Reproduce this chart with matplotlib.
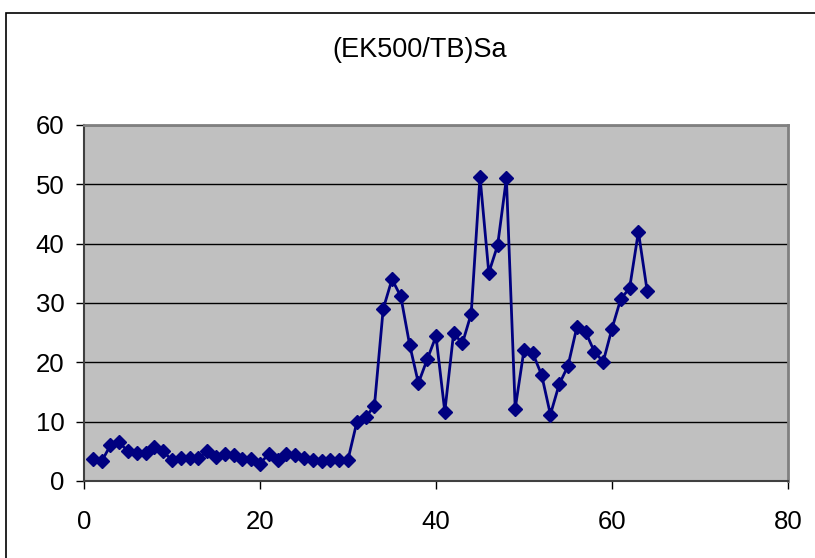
import matplotlib
matplotlib.use('Agg')
import matplotlib.pyplot as plt
from matplotlib.patches import Rectangle

plt.rcParams['font.family'] = ['Liberation Sans', 'DejaVu Sans']

# data
x = list(range(1, 65))
sa = [3.7, 3.3, 6.0, 6.5, 5.0, 4.8, 4.8, 5.8, 5.0, 3.5,
      3.9, 3.8, 3.9, 5.0, 4.0, 4.6, 4.4, 3.7, 3.7, 2.9,
      4.6, 3.5, 4.5, 4.4, 3.9, 3.5, 3.3, 3.5, 3.6, 3.6,
      9.9, 10.8, 12.6, 29.0, 34.0, 31.1, 23.0, 16.5, 20.5, 24.4,
      11.7, 24.9, 23.2, 28.2, 51.3, 35.1, 39.7, 51.0, 12.2, 22.1,
      21.5, 17.9, 11.2, 16.3, 19.4, 25.9, 25.1, 21.8, 20.1, 25.7,
      30.7, 32.5, 42.0, 32.0]
xticks = [0, 20, 40, 60, 80]
yticks = [0, 10, 20, 30, 40, 50, 60]
title = '(EK500/TB)Sa'

fig = plt.figure(figsize=(8.15, 5.58), dpi=100)
ax = fig.add_axes([84/815, 1-481/558, (788-84)/815, (481-125)/558])

# outer chart frame (runs off the right and bottom edges)
fig.patches.append(Rectangle((6/815, -0.5), 2.0, 1.5-13/558, transform=fig.transFigure,
                             fill=False, edgecolor='black', linewidth=1.2))

ax.set_facecolor('#C0C0C0')
ax.plot(x, sa, color='#000080', linewidth=2, marker='D', markersize=7,
        markerfacecolor='#000080', markeredgecolor='#000080', zorder=3)

ax.set_xlim(0, 80)
ax.set_ylim(0, 60)
ax.set_xticks(xticks)
ax.set_yticks(yticks)
ax.yaxis.grid(True, color='black', linewidth=1)
ax.set_axisbelow(True)

for s in ['top', 'right']:
    ax.spines[s].set_color('#808080')
    ax.spines[s].set_linewidth(2)
for s in ['left', 'bottom']:
    ax.spines[s].set_color('#404040')
    ax.spines[s].set_linewidth(1.5)

ax.tick_params(axis='both', direction='out', length=6, width=1, color='black',
               labelsize=18.5)
ax.tick_params(axis='y', pad=8)
ax.tick_params(axis='x', pad=15)

fig.text(420/815, 1-50/558, title, ha='center', va='center', fontsize=19.5)

fig.savefig('out.png', dpi=100)
